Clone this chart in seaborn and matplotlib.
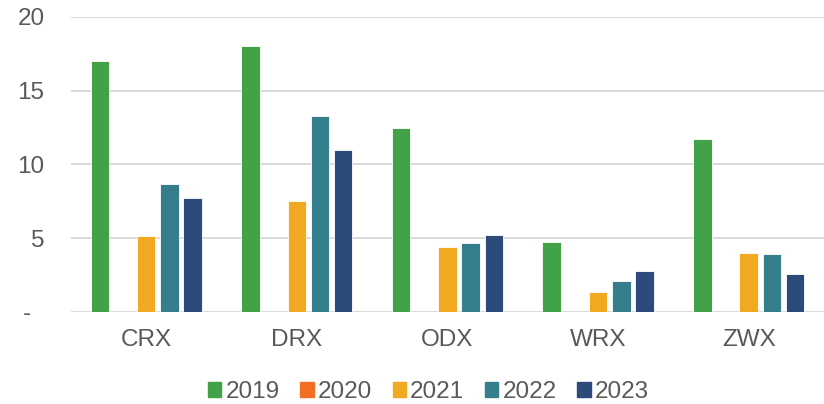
import pandas as pd
import matplotlib.pyplot as plt
import seaborn as sns

categories = ["CRX", "DRX", "ODX", "WRX", "ZWX"]
years = ["2019", "2020", "2021", "2022", "2023"]
v2019 = [17.0, 18.0, 12.5, 4.75, 11.7]
v2020 = [0, 0, 0, 0, 0]
v2021 = [5.15, 7.5, 4.4, 1.35, 4.0]
v2022 = [8.7, 13.3, 4.65, 2.1, 3.95]
v2023 = [7.7, 11.0, 5.2, 2.75, 2.6]
colors = ["#41A248", "#F26F21", "#F2A922", "#357E8B", "#2D4B7A"]

series = [v2019, v2020, v2021, v2022, v2023]
rows = []
for yr, vals in zip(years, series):
    for cat, v in zip(categories, vals):
        rows.append({"cat": cat, "year": yr, "value": v})
df = pd.DataFrame(rows)

sns.set_style("white")
plt.rcParams["font.family"] = ["Liberation Sans", "DejaVu Sans"]

fig = plt.figure(figsize=(8.24, 4.04), dpi=100)
ax = fig.add_axes([0.086, 0.228, 0.914, 0.73])

sns.barplot(data=df, x="cat", y="value", hue="year", palette=colors,
            saturation=1, width=0.77, gap=0.2, edgecolor="white",
            linewidth=0.6, legend=False, ax=ax)

ax.set_ylim(0, 20)
ax.set_xlim(-0.5, 4.5)
ax.set_yticks([0, 5, 10, 15, 20])
ax.set_yticklabels(["-  ", "5", "10", "15", "20"])
ax.yaxis.grid(True, color="#D9D9D9", linewidth=1.4)
ax.set_axisbelow(True)
for s in ax.spines.values():
    s.set_visible(False)
ax.tick_params(axis="y", length=0, pad=19, labelsize=17.5, labelcolor="#595959")
ax.tick_params(axis="x", length=0, pad=12, labelsize=17.5, labelcolor="#595959")
ax.set_xlabel("")
ax.set_ylabel("")

handles = [plt.Rectangle((0, 0), 1, 1, color=c) for c in colors]
fig.legend(handles, years, loc="center", bbox_to_anchor=(0.52, 0.03), ncol=5,
           frameon=False, fontsize=17.5, labelcolor="#595959",
           handlelength=0.55, handleheight=0.55, handletextpad=0.17,
           columnspacing=0.85, borderpad=0.1)

fig.savefig("out.png", dpi=100)
